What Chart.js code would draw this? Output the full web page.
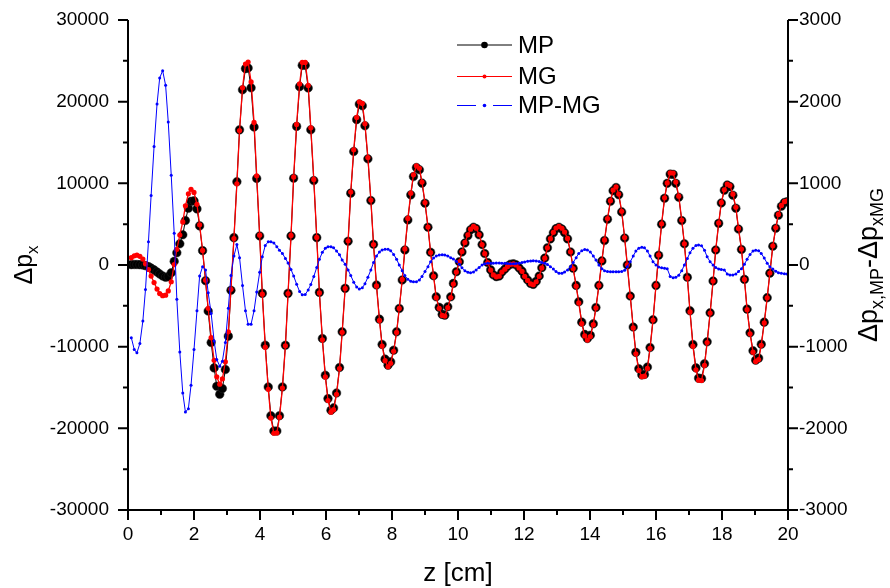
<!DOCTYPE html>
<html>
<head>
<meta charset="utf-8">
<script src="https://cdn.jsdelivr.net/npm/chart.js@4.4.1/dist/chart.umd.min.js"></script>
<style>
  html, body { margin: 0; padding: 0; background: #ffffff; }
  #wrap { width: 890px; height: 588px; }
</style>
</head>
<body>
<div id="wrap"><canvas id="c" width="890" height="588"></canvas></div>
<script>
// Position along the beam line, z [cm]
const z = [0.10,0.19,0.27,0.36,0.45,0.53,0.62,0.70,0.79,0.88,
0.96,1.05,1.14,1.22,1.31,1.40,1.48,1.57,1.66,1.74,
1.83,1.91,2.00,2.09,2.17,2.26,2.35,2.43,2.52,2.61,
2.69,2.78,2.86,2.95,3.04,3.12,3.21,3.30,3.38,3.47,
3.56,3.64,3.73,3.82,3.90,3.99,4.07,4.16,4.25,4.33,
4.42,4.51,4.59,4.68,4.77,4.85,4.94,5.02,5.11,5.20,
5.28,5.37,5.46,5.54,5.63,5.72,5.80,5.89,5.98,6.06,
6.15,6.23,6.32,6.41,6.49,6.58,6.67,6.75,6.84,6.93,
7.01,7.10,7.18,7.27,7.36,7.44,7.53,7.62,7.70,7.79,
7.88,7.96,8.05,8.14,8.22,8.31,8.39,8.48,8.57,8.65,
8.74,8.83,8.91,9.00,9.09,9.17,9.26,9.34,9.43,9.52,
9.60,9.69,9.78,9.86,9.95,10.04,10.12,10.21,10.30,10.38,
10.47,10.55,10.64,10.73,10.81,10.90,10.99,11.07,11.16,11.25,
11.33,11.42,11.50,11.59,11.68,11.76,11.85,11.94,12.02,12.11,
12.20,12.28,12.37,12.46,12.54,12.63,12.71,12.80,12.89,12.97,
13.06,13.15,13.23,13.32,13.41,13.49,13.58,13.66,13.75,13.84,
13.92,14.01,14.10,14.18,14.27,14.36,14.44,14.53,14.62,14.70,
14.79,14.87,14.96,15.05,15.13,15.22,15.31,15.39,15.48,15.57,
15.65,15.74,15.82,15.91,16.00,16.08,16.17,16.26,16.34,16.43,
16.52,16.60,16.69,16.78,16.86,16.95,17.03,17.12,17.21,17.29,
17.38,17.47,17.55,17.64,17.73,17.81,17.90,17.98,18.07,18.16,
18.24,18.33,18.42,18.50,18.59,18.68,18.76,18.85,18.94,19.02,
19.11,19.19,19.28,19.37,19.45,19.54,19.63,19.71,19.80,19.89,
19.97];

// Δp_x, MP model (left axis)
const mp = [50,60,60,40,0,-80,-200,-380,-600,-850,
-1100,-1350,-1500,-1430,-950,450,1500,2600,3700,5450,
6950,7800,7850,6870,4790,1760,-1920,-5640,-9490,-12600,
-14850,-15830,-15130,-12800,-8710,-3100,3350,10200,16550,21450,
24050,24130,21700,16900,10600,3560,-3470,-9820,-14930,-18450,
-20330,-20330,-18450,-14930,-9820,-3470,3560,10630,16970,21840,
24450,24450,21680,16560,10340,3350,-3350,-9000,-13500,-16360,
-17790,-17500,-15670,-12550,-8180,-2860,2900,8800,13900,17800,
19700,19500,17060,13000,7890,2540,-2450,-6630,-9730,-11530,
-12270,-11860,-10430,-8180,-5320,-1840,1840,5520,8590,10830,
11940,11660,10020,7570,4630,1560,-1310,-3890,-5190,-6050,
-6140,-5110,-3890,-2250,-820,400,1600,2700,3600,4300,
4630,4450,3700,2500,1400,300,-600,-1200,-1420,-1350,
-850,-500,-150,100,150,30,-350,-750,-1350,-1840,
-2250,-2370,-2000,-1350,-330,850,2100,3200,3950,4450,
4620,4400,3950,3200,1600,-400,-2500,-4500,-7000,-8500,
-9000,-8600,-7200,-5200,-2500,500,3000,5600,7800,9100,
9490,8600,6500,3300,0,-3800,-7600,-10700,-12700,-13450,
-13400,-12500,-10100,-6700,-2500,1200,5000,8180,10000,11130,
11100,10000,8300,5440,2600,-1500,-5600,-9730,-12600,-13850,
-13900,-12100,-9400,-5850,-1960,1840,5100,7600,9150,9800,
9600,8550,6950,4400,1900,-1760,-5400,-8300,-10500,-11650,
-11400,-9700,-7000,-4000,-1000,2300,4500,6100,7200,7650,
7750];

// Δp_x, MG model (left axis)
const mg = [900,1120,1200,1060,720,150,-550,-1350,-2150,-2950,
-3500,-3750,-3700,-3180,-2050,60,1920,3660,5270,7250,
8710,9270,8890,7430,4930,1780,-1860,-5300,-8900,-11670,
-13690,-14590,-13950,-11850,-8180,-2970,3240,9950,16460,21700,
24610,24850,22420,17460,10930,3650,-3570,-10060,-15220,-18740,
-20600,-20560,-18630,-15070,-9900,-3500,3620,10770,17210,22170,
24820,24810,21990,16800,10480,3380,-3420,-9160,-13700,-16590,
-18020,-17710,-15840,-12680,-8240,-2870,2960,8930,14110,18070,
19990,19780,17290,13150,7950,2510,-2560,-6790,-9920,-11720,
-12460,-12040,-10560,-8250,-5320,-1770,1970,5700,8790,11040,
12140,11850,10160,7650,4650,1520,-1400,-4000,-5310,-6180,
-6260,-5220,-3980,-2330,-870,390,1640,2770,3690,4390,
4720,4510,3730,2500,1390,280,-620,-1220,-1450,-1380,
-870,-520,-170,85,135,10,-370,-780,-1390,-1890,
-2300,-2420,-2050,-1390,-360,830,2100,3220,4000,4530,
4720,4500,4040,3260,1620,-430,-2590,-4640,-7180,-8690,
-9190,-8760,-7310,-5260,-2500,550,3070,5680,7880,9180,
9570,8680,6580,3370,20,-3840,-7710,-10870,-12910,-13670,
-13610,-12670,-10210,-6740,-2500,1230,5040,8220,10050,11270,
11260,10150,8430,5510,2600,-1580,-5750,-9940,-12840,-14100,
-14140,-12280,-9500,-5890,-1960,1870,5150,7660,9210,9910,
9720,8670,7060,4480,1950,-1770,-5470,-8430,-10670,-11830,
-11580,-9840,-7090,-4020,-980,2350,4580,6190,7300,7760,
7860];

// Δp_x,MP − Δp_x,MG (right axis)
const diff = [-890,-1035,-1076,-961,-687,-300,286,850,1450,1972,
2290,2380,2200,1750,1100,389,-420,-1064,-1567,-1800,
-1759,-1472,-1035,-560,-135,-20,-60,-340,-593,-930,
-1157,-1239,-1178,-950,-530,-130,110,250,90,-250,
-560,-724,-724,-560,-330,-90,100,240,286,286,
270,225,180,140,80,25,-55,-135,-235,-325,
-365,-362,-305,-240,-140,-30,70,155,204,225,
225,210,170,125,61,10,-60,-130,-210,-270,
-294,-280,-230,-150,-60,30,110,160,185,192,
192,175,130,70,0,-70,-130,-175,-200,-205,
-204,-185,-140,-80,-20,40,85,110,123,125,
123,110,90,75,45,10,-35,-70,-90,-94,
-85,-60,-30,0,15,20,20,22,25,25,
22,20,18,15,15,18,22,30,38,45,
50,53,50,42,30,20,5,-20,-50,-80,
-100,-102,-85,-60,-20,30,90,140,175,190,
185,160,110,60,0,-45,-70,-80,-82,-82,
-82,-82,-80,-65,-20,40,110,170,205,217,
210,170,110,40,0,-25,-35,-40,-45,-140,
-155,-150,-125,-70,0,80,150,205,238,245,
235,180,100,40,0,-30,-50,-55,-60,-110,
-123,-123,-110,-80,-45,10,70,130,170,182,
175,140,85,20,-20,-50,-75,-94,-102,-108,
-110];

const seriesNames = ['MP', 'MG', 'MP-MG'];
const seriesColors = ['#000000', '#ff0000', '#0000ff'];

const FONT = '"Liberation Sans", Arial, Helvetica, sans-serif';

const toPoints = (ys) => z.map((x, i) => ({ x: x, y: ys[i] }));

// Axis lines, major/minor tick marks, axis titles with subscripts and the legend
const decor = {
  id: 'decor',
  afterDraw(chart) {
    const ctx = chart.ctx;
    const a = chart.chartArea;
    const xs = chart.scales.x, yl = chart.scales.y, yr = chart.scales.y2;
    ctx.save();
    ctx.strokeStyle = '#000';
    ctx.lineWidth = 2;
    ctx.lineCap = 'butt';
    ctx.beginPath();
    ctx.moveTo(a.left, a.top); ctx.lineTo(a.left, a.bottom + 1);
    ctx.moveTo(a.right, a.top); ctx.lineTo(a.right, a.bottom + 1);
    ctx.moveTo(a.left - 1, a.bottom); ctx.lineTo(a.right + 1, a.bottom);
    for (let v = -30000; v <= 30000; v += 5000) {
      const y = yl.getPixelForValue(v);
      const len = v % 10000 === 0 ? 10 : 5;
      ctx.moveTo(a.left - len, y); ctx.lineTo(a.left, y);
    }
    for (let v = -3000; v <= 3000; v += 500) {
      const y = yr.getPixelForValue(v);
      const len = v % 1000 === 0 ? 10 : 5;
      ctx.moveTo(a.right, y); ctx.lineTo(a.right + len, y);
    }
    for (let v = 0; v <= 20; v += 1) {
      const x = xs.getPixelForValue(v);
      const len = v % 2 === 0 ? 10 : 5;
      ctx.moveTo(x, a.bottom); ctx.lineTo(x, a.bottom + len);
    }
    ctx.stroke();

    // rich text: runs of normal and subscript text
    const runWidth = (parts, main, sub) => parts.reduce((w, p) => {
      ctx.font = (p.sub ? sub : main) + 'px ' + FONT;
      return w + ctx.measureText(p.t).width;
    }, 0);
    const drawRuns = (parts, x0, y0, main, sub) => {
      let x = x0;
      parts.forEach(p => {
        ctx.font = (p.sub ? sub : main) + 'px ' + FONT;
        ctx.fillText(p.t, x, y0 + (p.sub ? 6 : 0));
        x += ctx.measureText(p.t).width;
      });
    };
    ctx.fillStyle = '#000';
    ctx.textBaseline = 'alphabetic';
    ctx.textAlign = 'left';

    // x title
    const xt = [{ t: 'z [cm]' }];
    drawRuns(xt, (a.left + a.right) / 2 - runWidth(xt, 26, 17) / 2, 581, 26, 17);

    // left title
    const lt = [{ t: 'Δp' }, { t: 'x', sub: true }];
    ctx.save();
    ctx.translate(32, (a.top + a.bottom) / 2);
    ctx.rotate(-Math.PI / 2);
    drawRuns(lt, -runWidth(lt, 25, 17) / 2, 0, 25, 17);
    ctx.restore();

    // right title
    const rt = [{ t: 'Δp' }, { t: 'x,MP', sub: true }, { t: '-Δp' }, { t: 'xMG', sub: true }];
    ctx.save();
    ctx.translate(877, (a.top + a.bottom) / 2);
    ctx.rotate(-Math.PI / 2);
    drawRuns(rt, -runWidth(rt, 27, 18) / 2, 0, 27, 18);
    ctx.restore();

    // legend
    const rowsY = [45, 76.5, 105.5];
    const markR = [3.3, 2, 1.8];
    const x0 = 457, x1 = 512, xm = 484.5;
    rowsY.forEach((y, k) => {
      ctx.strokeStyle = seriesColors[k];
      ctx.fillStyle = seriesColors[k];
      ctx.lineWidth = 1;
      ctx.beginPath();
      if (k === 2) {
        ctx.moveTo(x0, y); ctx.lineTo(x0 + 19, y);
        ctx.moveTo(x1 - 19, y); ctx.lineTo(x1, y);
      } else {
        ctx.moveTo(x0, y); ctx.lineTo(x1, y);
      }
      ctx.stroke();
      ctx.beginPath();
      ctx.arc(xm, y, markR[k], 0, Math.PI * 2);
      ctx.fill();
      ctx.fillStyle = '#000';
      ctx.font = '24px ' + FONT;
      ctx.textBaseline = 'middle';
      ctx.fillText(seriesNames[k], 518, y + 1);
    });
    ctx.restore();
  }
};

const tickFont = { family: FONT, size: 19 };
const plain = (v) => String(v);

new Chart(document.getElementById('c'), {
  type: 'scatter',
  data: {
    datasets: [
      {
        label: seriesNames[0], data: toPoints(mp), yAxisID: 'y', showLine: true,
        borderColor: seriesColors[0], borderWidth: 1, pointRadius: 4.3,
        pointBackgroundColor: '#000', pointBorderColor: '#222', pointBorderWidth: 0.5, order: 3
      },
      {
        label: seriesNames[1], data: toPoints(mg), yAxisID: 'y', showLine: true,
        borderColor: seriesColors[1], borderWidth: 1.3, pointRadius: 2.6,
        pointBackgroundColor: '#ff0000', pointBorderWidth: 0, order: 2
      },
      {
        label: seriesNames[2], data: toPoints(diff), yAxisID: 'y2', showLine: true,
        borderColor: seriesColors[2], borderWidth: 1, pointRadius: 1.5,
        pointBackgroundColor: '#0000ff', pointBorderWidth: 0, order: 1
      }
    ]
  },
  options: {
    responsive: false,
    animation: false,
    devicePixelRatio: 1,
    events: [],
    layout: { padding: { top: 20, left: 0, right: 0, bottom: 0 } },
    plugins: { legend: { display: false }, tooltip: { enabled: false } },
    scales: {
      x: {
        type: 'linear', position: 'bottom', min: 0, max: 20,
        grid: { display: false, drawTicks: false }, border: { display: false },
        ticks: { stepSize: 2, font: tickFont, color: '#000', padding: 13, maxRotation: 0, callback: plain },
        afterFit(s) { s.height = 78; s.paddingLeft = 0; s.paddingRight = 0; }
      },
      y: {
        type: 'linear', position: 'left', min: -30000, max: 30000,
        grid: { display: false, drawTicks: false }, border: { display: false },
        ticks: { stepSize: 10000, font: tickFont, color: '#000', padding: 19, callback: plain },
        afterFit(s) { s.width = 128; s.paddingTop = 0; s.paddingBottom = 0; }
      },
      y2: {
        type: 'linear', position: 'right', min: -3000, max: 3000,
        grid: { display: false, drawTicks: false }, border: { display: false },
        ticks: { stepSize: 1000, font: tickFont, color: '#000', padding: 11, callback: plain },
        afterFit(s) { s.width = 102; s.paddingTop = 0; s.paddingBottom = 0; }
      }
    }
  },
  plugins: [decor]
});
</script>
</body>
</html>
